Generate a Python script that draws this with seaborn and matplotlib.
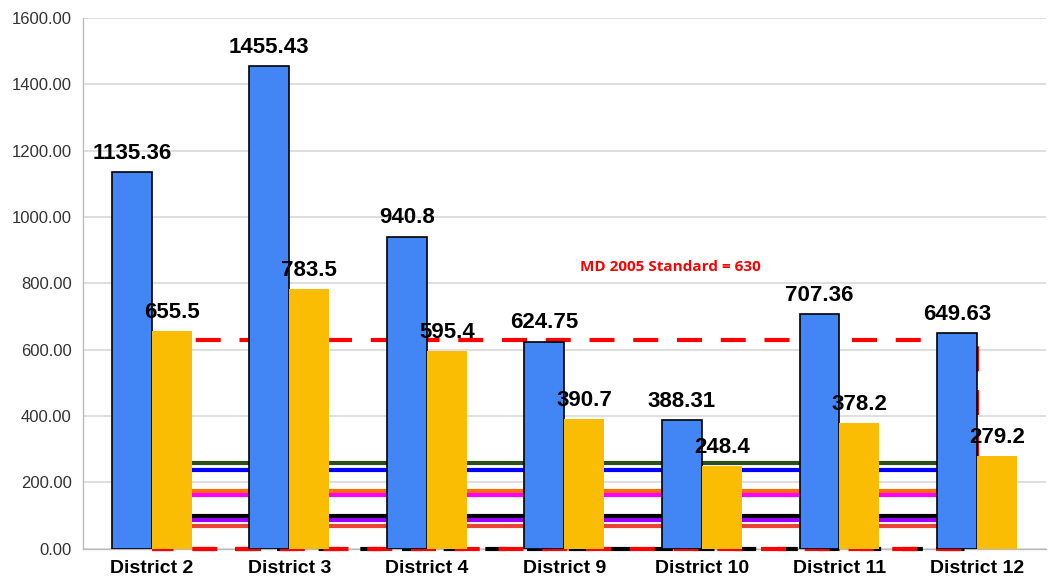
import matplotlib
matplotlib.use("Agg")
import matplotlib.pyplot as plt
import seaborn as sns
import pandas as pd

districts = ["District 2", "District 3", "District 4", "District 9", "District 10", "District 11", "District 12"]
series_a = [1135.36, 1455.43, 940.8, 624.75, 388.31, 707.36, 649.63]
series_b = [655.5, 783.5, 595.4, 390.7, 248.4, 378.2, 279.2]
label_a = ["1135.36", "1455.43", "940.8", "624.75", "388.31", "707.36", "649.63"]
label_b = ["655.5", "783.5", "595.4", "390.7", "248.4", "378.2", "279.2"]
ref_values = [260, 238, 174, 162, 100, 88, 70]
ref_colors = ["#2b4e1c", "#0000ff", "#ff6d01", "#ff00ff", "#000000", "#9900ff", "#ea4335"]
standard = 630
standard_text = "MD 2005 Standard = 630"
yticks = [0, 200, 400, 600, 800, 1000, 1200, 1400, 1600]

df = pd.DataFrame({
    "District": districts * 2,
    "Value": series_a + series_b,
    "Series": ["A"] * len(districts) + ["B"] * len(districts),
})

sns.set_style("white")
plt.rcParams["font.family"] = ["Liberation Sans", "DejaVu Sans"]

fig = plt.figure(figsize=(10.5, 5.82), dpi=100)
ax = fig.add_axes([0.079, 0.057, 0.917, 0.912])

sns.barplot(data=df, x="District", y="Value", hue="Series", order=districts,
            hue_order=["A", "B"], palette=["#4285f4", "#fbbc04"], width=0.58,
            saturation=1, legend=False, ax=ax, zorder=3, errorbar=None)

for c, cont in enumerate(ax.containers):
    for bar in cont:
        if c == 0:
            bar.set_edgecolor("black")
            bar.set_linewidth(1.2)
        else:
            bar.set_edgecolor("none")

for cont, labs in zip(ax.containers, [label_a, label_b]):
    ax.bar_label(cont, labels=labs, padding=6, fontsize=16, fontweight="bold", color="black")

x0, x1 = 0, len(districts) - 1
for v, col in zip(ref_values, ref_colors):
    ax.plot([x0, x1], [v, v], color=col, lw=3, zorder=2, solid_capstyle="butt")

ax.plot([x0, x1], [0, 0], color="black", lw=3, ls=(0, (5, 5)), zorder=2.6, clip_on=False)
ax.plot([x0, x1, x1, x0], [standard, standard, 0, 0], color="#ff0000", lw=3,
        ls=(0, (6, 4.5)), zorder=2.7, clip_on=False)

ax.text(3.77, 850, standard_text, color="#ff0000", fontsize=11, fontweight="bold",
        family=["Open Sans", "DejaVu Sans"], ha="center", va="center")

ax.set_ylim(0, 1600)
ax.set_xlim(-0.5, len(districts) - 0.5)
ax.set_yticks(yticks)
ax.set_yticklabels([f"{t:.2f}" for t in yticks], fontsize=12, color="#333333")
ax.set_xlabel("")
ax.set_ylabel("")
for lbl in ax.get_xticklabels():
    lbl.set_fontweight("bold")
    lbl.set_fontsize(14)
    lbl.set_color("black")
ax.tick_params(axis="both", length=0, pad=8)
ax.yaxis.grid(True, color="#d9d9d9", lw=1.2, zorder=0)
ax.set_axisbelow(True)
for s in ["top", "right"]:
    ax.spines[s].set_visible(False)
for s in ["left", "bottom"]:
    ax.spines[s].set_color("#bbbbbb")
    ax.spines[s].set_linewidth(1)

fig.savefig("out.png", dpi=100)
